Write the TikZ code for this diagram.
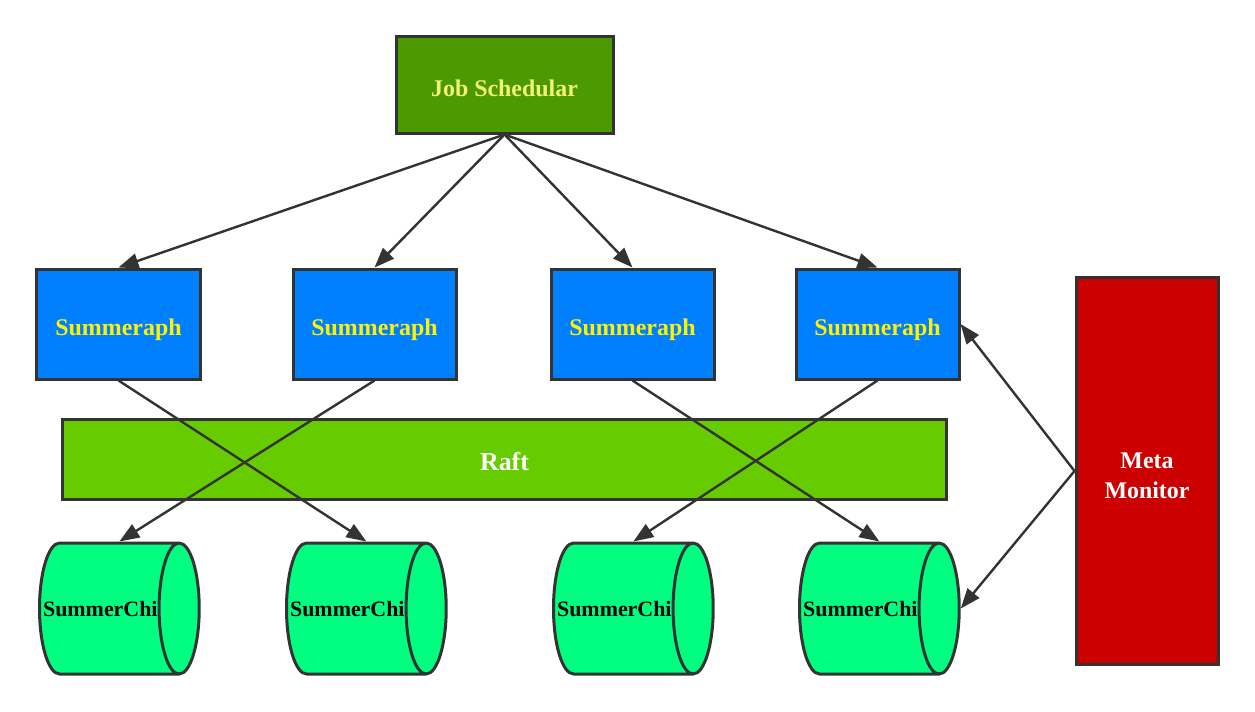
\documentclass[tikz,border=0pt]{standalone}
\usepackage{fontspec}
\setmainfont{Liberation Serif}
\usetikzlibrary{arrows.meta,shapes.geometric}
\definecolor{jobgreen}{HTML}{4D9900}
\definecolor{jobtext}{HTML}{F2F27A}
\definecolor{sumblue}{HTML}{007FFF}
\definecolor{raftgreen}{HTML}{66CC00}
\definecolor{metared}{HTML}{CC0000}
\definecolor{chigreen}{HTML}{00FF80}
\definecolor{edgegray}{HTML}{333333}
\newcommand{\chitext}{\makebox[49bp][r]{SummerChi}}
\begin{document}
\begin{tikzpicture}[x=0.5bp, y=-0.5bp,
        font=\fontsize{12}{14}\selectfont\bfseries,
        box/.style={draw=edgegray, line width=1.5bp, inner sep=0pt, text height=11.5bp, text depth=0pt},
        sumbox/.style={box, fill=sumblue, text=yellow, minimum width=81.5bp, minimum height=55bp},
        chibox/.style={cylinder, draw=edgegray, line width=1.5bp, fill=chigreen, aspect=2.64,
            minimum width=65.5bp, inner sep=0pt, text depth=0pt, anchor=west,
            font=\fontsize{11}{13}\selectfont\bfseries},
        link/.style={draw=edgegray, line width=1.2bp, -{Triangle[length=10bp, width=7.5bp]}},
        biglink/.style={link, {Triangle[length=10bp, width=7.5bp]}-{Triangle[length=10bp, width=7.5bp]}}]
    \useasboundingbox (0, 0) rectangle (1255, 711);
    % nodes
    \node[box, fill=jobgreen, text=jobtext, minimum width=108.5bp, minimum height=48bp] (job) at (504.5, 85) {Job Schedular};
    \node[sumbox] (s1) at (118.5, 324) {Summeraph};
    \node[sumbox] (s2) at (374.5, 324) {Summeraph};
    \node[sumbox] (s3) at (632.5, 324) {Summeraph};
    \node[sumbox] (s4) at (877.5, 324) {Summeraph};
    \node[box, fill=raftgreen, text=white, minimum width=441.5bp, minimum height=40bp,
        font=\fontsize{13}{15}\selectfont\bfseries] (raft) at (504.5, 459) {Raft};
    \node[draw=edgegray, line width=1.5bp, inner sep=0pt, fill=metared, text=white, minimum width=71bp,
        minimum height=193bp, align=center, text height=27.5bp, text depth=0pt,
        font=\fontsize{12}{15}\selectfont\bfseries] (meta) at (1147, 471) {Meta\\Monitor};
    \node[chibox] (c1) at (38, 608.5) {\chitext};
    \node[chibox] (c2) at (285, 608.5) {\chitext};
    \node[chibox] (c3) at (552, 608.5) {\chitext};
    \node[chibox] (c4) at (798, 608.5) {\chitext};
    % connectors
    \foreach \s in {s1, s2, s3, s4}
        \draw[link] (job.south) -- (\s.north);
    \draw[link] (s1.south) -- (c2.shape center |- c2.north);
    \draw[link] (s2.south) -- (c1.shape center |- c1.north);
    \draw[link] (s3.south) -- (c4.shape center |- c4.north);
    \draw[link] (s4.south) -- (c3.shape center |- c3.north);
    \draw[biglink] (s4.east) -- (meta.west) -- (c4.east);
\end{tikzpicture}
\end{document}
